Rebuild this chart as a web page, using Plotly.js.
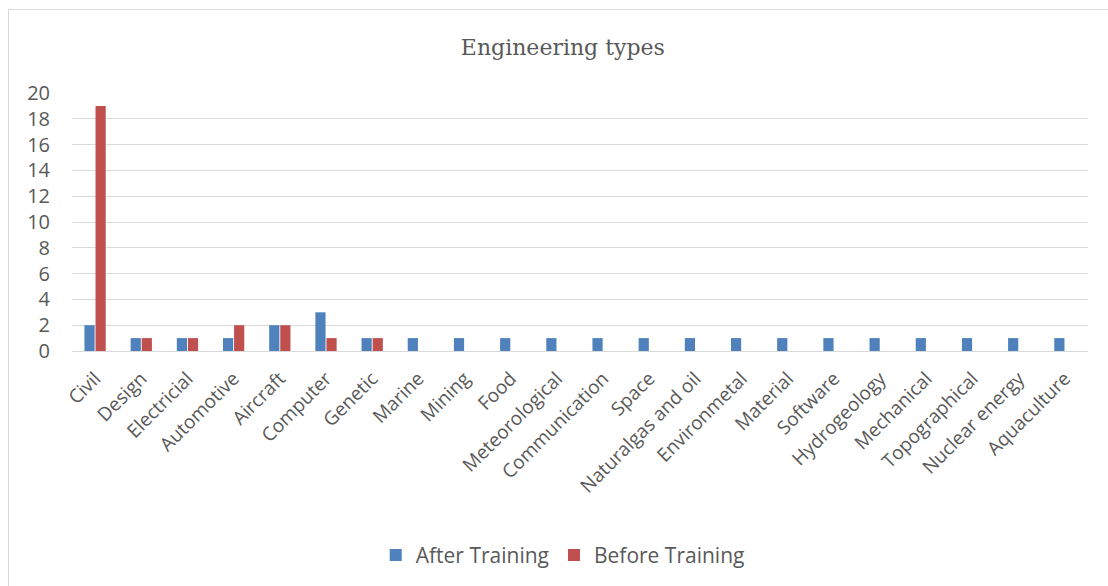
<!DOCTYPE html>
<html><head><meta charset="utf-8">
<script src="https://cdn.plot.ly/plotly-3.0.1.min.js"></script>
<style>
html,body{margin:0;padding:0;background:#fff;overflow:hidden;}
#frame{position:absolute;left:8px;top:9px;width:1110px;height:590px;border:1.5px solid #d9d9d9;box-sizing:border-box;}
#chart{position:absolute;left:0;top:0;width:1108px;height:586px;}
</style></head>
<body>
<div id="frame"></div>
<div id="chart"></div>
<script>
const categories = ["Civil","Design","Electricial","Automotive","Aircraft","Computer","Genetic","Marine","Mining","Food","Meteorological","Communication","Space","Naturalgas and oil","Environmetal","Material","Software","Hydrogeology","Mechanical","Topographical","Nuclear energy","Aquaculture"];
const afterTraining = [2,1,1,1,2,3,1,1,1,1,1,1,1,1,1,1,1,1,1,1,1,1];
const beforeTraining = [19,1,1,2,2,1,1,null,null,null,null,null,null,null,null,null,null,null,null,null,null,null];

const traces = [
  {type:'bar', name:'After Training', x:categories, y:afterTraining, marker:{color:'#4f81bd'}},
  {type:'bar', name:'Before Training', x:categories, y:beforeTraining, marker:{color:'#c0504d'}}
];
const layout = {
  width:1108, height:586,
  paper_bgcolor:'rgba(0,0,0,0)', plot_bgcolor:'rgba(0,0,0,0)',
  margin:{l:72, r:20, t:93, b:234},
  barmode:'group', bargap:0.52, bargroupgap:0.08,
  title:{text:'Engineering types', x:0.508, xanchor:'center', y:0.92, yanchor:'middle', font:{family:'DejaVu Serif, Liberation Serif, serif', size:22, color:'#595959'}},
  font:{family:'Open Sans, sans-serif', color:'#595959'},
  xaxis:{type:'category', tickangle:-45, tickfont:{size:19, color:'#595959'}, showgrid:false, showline:true, linecolor:'#d9d9d9', linewidth:1, ticks:'', ticklabelstandoff:8, fixedrange:true},
  yaxis:{range:[0,20], dtick:2, tickfont:{size:20, color:'#595959'}, showgrid:true, gridcolor:'#d9d9d9', gridwidth:1, zeroline:false, showline:false, ticks:'', ticklabelstandoff:21, fixedrange:true},
  showlegend:true,
  legend:{orientation:'h', x:0.483, xanchor:'center', y:-0.785, yanchor:'middle', font:{size:21, color:'#595959'}, itemwidth:30, traceorder:'normal'}
};
Plotly.newPlot('chart', traces, layout, {displayModeBar:false, staticPlot:true});
</script>
</body></html>
